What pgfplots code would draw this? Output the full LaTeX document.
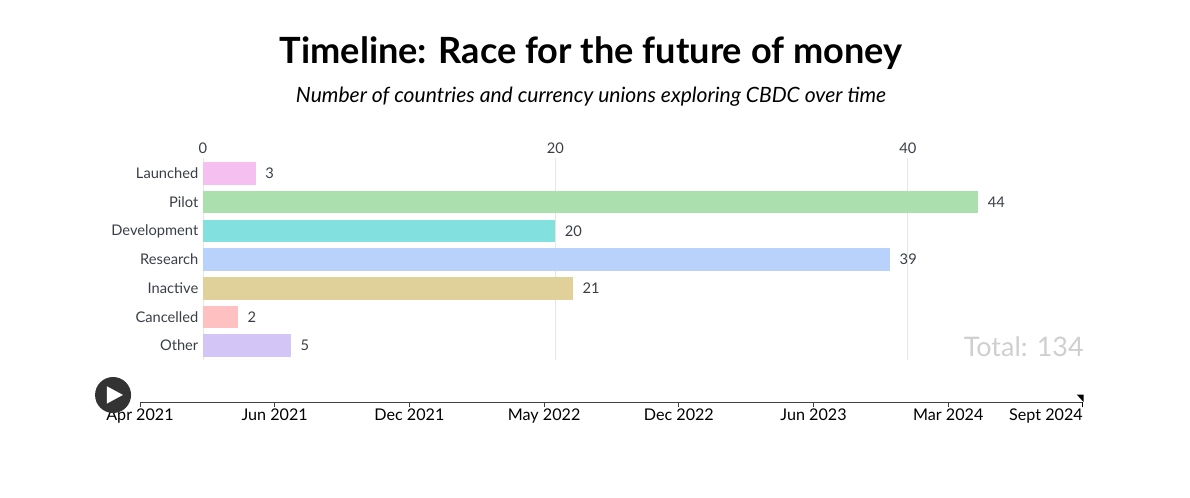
\documentclass[border=0pt]{standalone}
\usepackage{fontspec}
\setmainfont{Lato}
\usepackage{pgfplots}
\pgfplotsset{compat=1.18}
\definecolor{txt}{HTML}{3A3F47}
\definecolor{gridc}{HTML}{E6E6E6}
\definecolor{launched}{HTML}{F5C0F0}
\definecolor{pilot}{HTML}{ABDFAE}
\definecolor{development}{HTML}{82E0DF}
\definecolor{research}{HTML}{B9D2FB}
\definecolor{inactive}{HTML}{E0D19A}
\definecolor{cancelled}{HTML}{FFC0C2}
\definecolor{other}{HTML}{D3C5F5}
\begin{document}
\begin{tikzpicture}
\path[use as bounding box] (0,0) rectangle (892.5pt,372.75pt);
\node[font=\fontsize{27.1}{32}\selectfont\bfseries] at (443.25pt,333pt) {Timeline: Race for the future of money};
\node[font=\fontsize{15.8}{19}\selectfont\itshape] at (443.25pt,300pt) {Number of countries and currency unions exploring CBDC over time};
\begin{axis}[
  at={(152.25pt,102.75pt)}, anchor=south west,
  scale only axis, width=660pt, height=151.5pt,
  xmin=0, xmax=49.93, ymin=-0.54, ymax=6.5,
  y dir=reverse,
  xbar, bar shift=0pt, bar width=16.9pt,
  xtick={0,20,40}, ytick={0,...,6},
  yticklabels={Launched,Pilot,Development,Research,Inactive,Cancelled,Other},
  xticklabel pos=upper,
  xmajorgrids, major grid style={gridc, line width=0.75pt},
  axis line style={draw=none},
  major tick length=0pt,
  tick label style={font=\fontsize{11}{13}\selectfont, text=txt},
  /pgf/number format/assume math mode=true,
  xticklabel style={yshift=-0.5pt},
  yticklabel style={xshift=0pt},
  nodes near coords,
  nodes near coords style={font=\fontsize{11}{13}\selectfont, text=txt, anchor=west, xshift=3.5pt},
  every axis plot/.append style={draw=none},
  clip=false,
]
\addplot[fill=launched] coordinates {(3,0)};
\addplot[fill=pilot] coordinates {(44,1)};
\addplot[fill=development] coordinates {(20,2)};
\addplot[fill=research] coordinates {(39,3)};
\addplot[fill=inactive] coordinates {(21,4)};
\addplot[fill=cancelled] coordinates {(2,5)};
\addplot[fill=other] coordinates {(5,6)};
\node[anchor=east, inner xsep=0pt, font=\fontsize{20.2}{25}\selectfont, text=black!19] at (axis cs:49.98,6.05) {Total: 134};
\end{axis}
\begin{axis}[
  at={(105pt,71.25pt)}, anchor=south west,
  scale only axis, width=707.25pt, height=10pt,
  xmin=0, xmax=7, ymin=0, ymax=1,
  axis x line=bottom, axis y line=none,
  axis line style={-, draw=black!75, line width=0.75pt},
  xtick={0,...,7},
  xticklabels={Apr 2021,Jun 2021,Dec 2021,May 2022,Dec 2022,Jun 2023,Mar 2024,},
  tick align=outside, major tick length=4pt,
  tick style={draw=black!75, line width=0.75pt},
  tick label style={font=\fontsize{12.1}{14}\selectfont, text=black},
  xticklabel style={yshift=2.5pt},
  clip=false,
]
\node[anchor=base east, font=\fontsize{12.1}{14}\selectfont, inner xsep=0pt] at (axis cs:7,0) [yshift=-14pt] {Sept 2024};
\fill[black] (axis cs:7,0) ++(0.4pt,5.5pt) -- ++(-5pt,0pt) -- ++(5pt,-5.5pt) -- cycle;
\draw[black, line width=0.75pt] (axis cs:7,0) -- ++(0pt,-4pt);
\fill[black!80] (axis cs:-0.2,0) ++(0pt,5.25pt) circle (13.5pt);
\fill[white] (axis cs:-0.2,0) ++(-4.6pt,-1.2pt) -- ++(0pt,13pt) -- ++(12pt,-6.5pt) -- cycle;
\end{axis}
\end{tikzpicture}
\end{document}
